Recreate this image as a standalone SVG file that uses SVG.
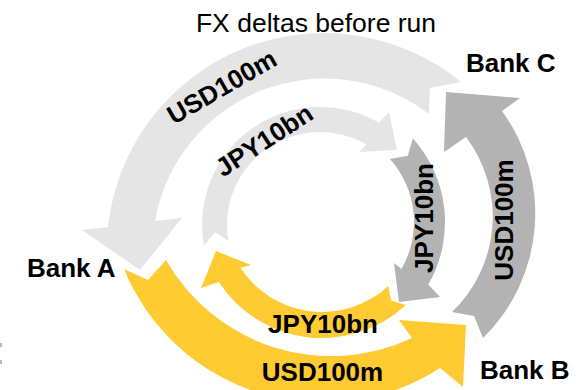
<svg xmlns="http://www.w3.org/2000/svg" width="584" height="390" viewBox="0 0 584 390">
<style>
.lg{fill:#e5e5e5}
.dg{fill:#b3b3b3}
.yl{fill:#ffcb33}
.lbl{font-family:"Liberation Sans",Arial,sans-serif;font-weight:bold;font-size:26px;fill:#000}
.ttl{font-family:"Liberation Sans",Arial,sans-serif;font-size:26.5px;fill:#000}
</style>
<rect width="584" height="390" fill="#fff"/>
<text class="ttl" x="316" y="32" text-anchor="middle">FX deltas before run</text>
<g id="connectors">
  <g id="usd-c-a">
    <path class="lg" d="M461 82 A217 217 0 0 0 108 227 L82 230 L140 270 L182 218 L155 221 A172 172 0 0 1 429 114 L430 88 Z"/>
    <text class="lbl" text-anchor="middle" transform="translate(226.2,94.6) rotate(-30)">USD100m</text>
  </g>
  <g id="usd-a-b">
    <path class="yl" d="M124 269 A215 215 0 0 0 440 368 L463 387 L466 325 L399 320 L412 338 A190 190 0 0 1 166 260 L148 280 Z"/>
    <text class="lbl" text-anchor="middle" x="322.5" y="381">USD100m</text>
  </g>
  <g id="usd-b-c">
    <path class="dg" d="M483 338 A174.5 174.5 0 0 0 502 111 L520 98 L446 92 L444 152 L466 137 A132 132 0 0 1 452 312 L474 316 Z"/>
    <text class="lbl" text-anchor="middle" transform="translate(512.5,220) rotate(-90)">USD100m</text>
  </g>
  <g id="jpy-a-c">
    <path class="lg" d="M203.8 245.5 A118 118 0 0 1 379 122.8 L389 112 L397 150 L359 152 L366.5 144.5 A93 93 0 0 0 228.4 241.1 L215.3 232.3 Z"/>
    <text class="lbl" text-anchor="middle" transform="translate(269.1,147.8) rotate(-33)">JPY10bn</text>
  </g>
  <g id="jpy-c-b">
    <path class="dg" d="M412.9 138.4 A125 125 0 0 1 428.3 284.5 L440 297 L399 302 L394 263 L401.4 269 A94 94 0 0 0 389.9 159.1 L407.8 155.8 Z"/>
    <text class="lbl" text-anchor="middle" transform="translate(432.5,218) rotate(-90)">JPY10bn</text>
  </g>
  <g id="jpy-b-a">
    <path class="yl" d="M405.9 305 A123 123 0 0 1 218.8 282 L201 288 L216 251 L251 265 L240.6 267.8 A97 97 0 0 0 388.2 285.9 L391.2 300.5 Z"/>
    <text class="lbl" text-anchor="middle" x="323" y="333">JPY10bn</text>
  </g>
</g>
<g id="bank-a"><text class="lbl" x="27" y="277">Bank A</text></g>
<g id="bank-b"><text class="lbl" x="480" y="379">Bank B</text></g>
<g id="bank-c"><text class="lbl" x="466" y="72">Bank C</text></g>
<rect x="0" y="343" width="2" height="4" fill="#bbb"/>
<rect x="0" y="360" width="2" height="4" fill="#bbb"/>
</svg>
